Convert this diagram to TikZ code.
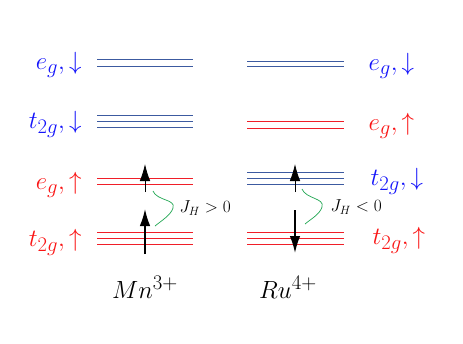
\documentclass[tikz,border=0pt]{standalone}
\usepackage{amsmath}
\usepackage{amssymb}
\usepackage{xcolor}
\usepackage{tikz}
\usetikzlibrary{arrows.meta,positioning}
\definecolor{lvBlue}{RGB}{60,90,160}
\definecolor{lvRed}{RGB}{240,30,40}
\definecolor{tBlue}{RGB}{20,20,250}
\definecolor{tRed}{RGB}{250,20,20}
\definecolor{hGreen}{RGB}{30,165,80}

\begin{document}
\begin{tikzpicture}[x=1pt, y=-1pt,
    dnlvl/.style={draw=lvBlue, line width=0.9pt},
    uplvl/.style={draw=lvRed, line width=0.9pt},
    lbl/.style ={font=\fontsize{30}{34}\selectfont},
    ion/.style ={font=\fontsize{30}{34}\selectfont},
    spin/.style={-{Latex[length=17pt,width=10.5pt]}, line width=1.6pt},
    tspin/.style={-{Latex[length=17pt,width=10.5pt]}, line width=0.8pt},
    hund/.style={draw=hGreen, line width=0.7pt},
    jlbl/.style={font=\fontsize{17}{20}\selectfont}
]
\useasboundingbox (0,0) rectangle (463,343);

% Mn3+ levels
\draw[dnlvl] (97,59)  -- (193,59);
\draw[dnlvl] (97,66)  -- (193,66);
\draw[dnlvl] (97,115) -- (193,115);
\draw[dnlvl] (97,121) -- (193,121);
\draw[dnlvl] (97,127) -- (193,127);
\draw[uplvl] (97,178) -- (193,178);
\draw[uplvl] (97,184) -- (193,184);
\draw[uplvl] (97,232) -- (193,232);
\draw[uplvl] (97,238) -- (193,238);
\draw[uplvl] (97,244) -- (193,244);

% Ru4+ levels
\draw[dnlvl] (247,61)  -- (344,61);
\draw[dnlvl] (247,66)  -- (344,66);
\draw[uplvl] (247,121) -- (344,121);
\draw[uplvl] (247,128) -- (344,128);
\draw[dnlvl] (247,172) -- (344,172);
\draw[dnlvl] (247,178) -- (344,178);
\draw[dnlvl] (247,184) -- (344,184);
\draw[uplvl] (247,232) -- (344,232);
\draw[uplvl] (247,238) -- (344,238);
\draw[uplvl] (247,244) -- (344,244);

% labels
\node[lbl, tBlue, anchor=east] (lEgDn)  at (85,65)  {$e_g,\downarrow$};
\node[lbl, tBlue, anchor=east] (lTgDn)  at (85,124) {$t_{2g},\downarrow$};
\node[lbl, tRed,  anchor=east] (lEgUp)  at (85,185) {$e_g,\uparrow$};
\node[lbl, tRed,  anchor=east] (lTgUp)  at (85,242) {$t_{2g},\uparrow$};
\node[lbl, tBlue, anchor=west] (rEgDn)  at (365,66)  {$e_g,\downarrow$};
\node[lbl, tRed,  anchor=west] (rEgUp)  at (365,126) {$e_g,\uparrow$};
\node[lbl, tBlue, anchor=west] (rTgDn)  at (367,181) {$t_{2g},\downarrow$};
\node[lbl, tRed,  anchor=west] (rTgUp)  at (369,240) {$t_{2g},\uparrow$};

\node[ion] (mn) at (145,287) {$Mn^{3+}$};
\node[ion] (ru) at (288,287) {$Ru^{4+}$};

% spins
\coordinate (mnLo0) at (145,254);
\coordinate (mnLo1) at (145,209);
\coordinate (mnHi0) at (145,192);
\coordinate (mnHi1) at (145,164);
\coordinate (ruHi0) at (295,192);
\coordinate (ruHi1) at (295,164);
\coordinate (ruLo0) at (295,210);
\coordinate (ruLo1) at (295,253);
\draw[spin]  (mnLo0) -- (mnLo1);
\draw[tspin] (mnHi0) -- (mnHi1);
\draw[tspin] (ruHi0) -- (ruHi1);
\draw[spin]  (ruLo0) -- (ruLo1);

% Hund coupling
\coordinate (mnJa) at (153,191);
\coordinate (mnJb) at (173,208);
\coordinate (mnJc) at (155,226);
\coordinate (ruJa) at (302,189);
\coordinate (ruJb) at (322,207);
\coordinate (ruJc) at (305,224);
\draw[hund] (mnJa) .. controls (157,201) and (176,199) .. (mnJb)
                   .. controls (171,215) and (161,221) .. (mnJc);
\draw[hund] (ruJa) .. controls (306,199) and (325,198) .. (ruJb)
                   .. controls (320,214) and (311,219) .. (ruJc);
\node[jlbl, right=3pt of mnJb] (jmn) {$J_H>0$};
\node[jlbl, right=5pt of ruJb] (jru) {$J_H<0$};
\end{tikzpicture}
\end{document}
